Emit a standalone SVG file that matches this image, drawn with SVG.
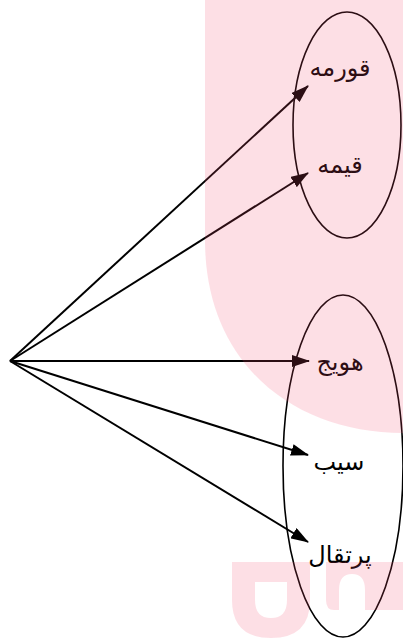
<svg xmlns="http://www.w3.org/2000/svg" width="403" height="638" viewBox="0 0 403 638">
<defs>
<style>
.set{fill:none;stroke:#000;stroke-width:1.6}
.edge{fill:none;stroke:#000;stroke-width:2;marker-end:url(#ah)}
.lbl{font-family:"DejaVu Sans",sans-serif;font-size:24px;fill:#000;text-anchor:middle;direction:rtl}
.wm{fill:rgb(245,76,109);fill-opacity:0.18;stroke:none}
</style>
<marker id="ah" markerUnits="userSpaceOnUse" markerWidth="18" markerHeight="12" viewBox="0 0 18 12" refX="17" refY="6" orient="auto">
<path d="M0,0 L18,6 L0,12 Z" fill="#000"/>
</marker>
</defs>
<rect width="403" height="638" fill="#fff"/>
<g id="set-food"><ellipse class="set" cx="347" cy="125" rx="54" ry="113"/></g>
<g id="set-fruit"><ellipse class="set" cx="343" cy="466" rx="60" ry="171"/></g>
<g id="connectors">
<line class="edge" x1="10" y1="361" x2="308" y2="86"/>
<line class="edge" x1="10" y1="361" x2="308" y2="173"/>
<line class="edge" x1="10" y1="361" x2="309" y2="361"/>
<line class="edge" x1="10" y1="361" x2="308" y2="455"/>
<line class="edge" x1="10" y1="361" x2="308" y2="542"/>
</g>
<g id="ghormeh"><text class="lbl" x="340" y="76">قورمه</text></g>
<g id="gheimeh"><text class="lbl" x="340" y="173">قیمه</text></g>
<g id="havij"><text class="lbl" x="340" y="370">هویج</text></g>
<g id="sib"><text class="lbl" x="339" y="470">سیب</text></g>
<g id="porteghal"><text class="lbl" x="340" y="563">پرتقال</text></g>
<g id="watermark">
<path class="wm" d="M205,0 L205,240 C205,365 295,433 403,433 L403,0 Z"/>
<path class="wm" fill-rule="evenodd" d="M232,562 L310,562 L310,600 Q310,638 271,638 Q232,638 232,600 Z M255,582 L287,582 L287,600 Q287,618 271,618 Q255,618 255,600 Z"/>
<path class="wm" d="M326,562 L403,562 L403,610 L365,610 L365,590 Q365,574 352,574 Q339,574 339,590 L339,610 L334,610 Q326,610 326,600 Z"/>
</g>
</svg>
